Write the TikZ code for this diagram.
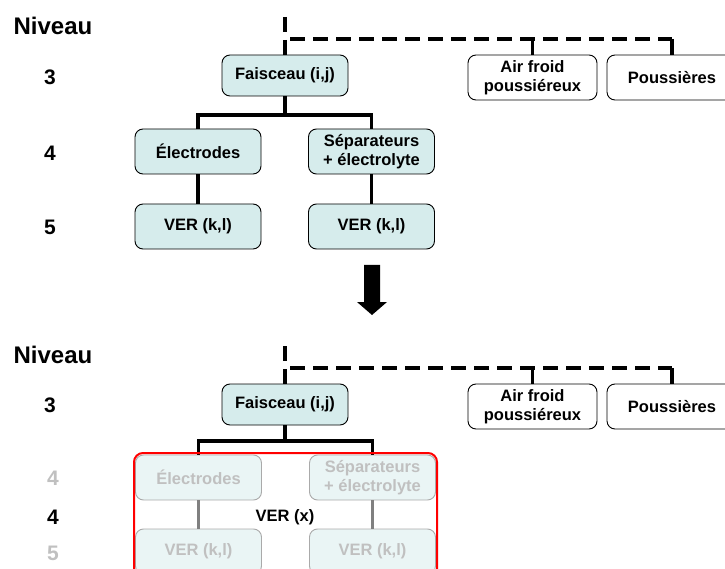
\documentclass[tikz,border=0pt]{standalone}
\usepackage{fontspec}
\setmainfont{Liberation Sans}
\usetikzlibrary{calc}

\definecolor{boxfill}{RGB}{214,236,236}
\definecolor{fadefill}{RGB}{234,245,245}
\definecolor{fadeline}{RGB}{170,170,170}
\definecolor{fadetext}{RGB}{192,192,192}
\definecolor{fadeconn}{RGB}{128,128,128}
\definecolor{framered}{RGB}{255,0,0}

\newcommand\bxfont{\fontsize{16.5}{19}\selectfont\bfseries}
\newcommand\lvfont{\fontsize{21}{24}\selectfont\bfseries}
\newcommand\nvfont{\fontsize{24}{28}\selectfont\bfseries}

\tikzset{
  unit/.style={draw=black, line width=0.9pt, rounded corners=8pt, fill=boxfill,
    minimum width=126pt, minimum height=45pt, inner sep=0pt, align=center, font=\bxfont},
  flat/.style={unit, fill=white, minimum width=129pt},
  faded/.style={unit, draw=fadeline, fill=fadefill, text=fadetext},
  conn/.style={line width=3.5pt, black},
  fconn/.style={line width=3pt, fadeconn},
  dashline/.style={line width=3.8pt, black, dash pattern=on 15pt off 8pt},
  lvl/.style={font=\lvfont, inner sep=0pt},
  lvlfade/.style={lvl, text=fadetext},
  niv/.style={font=\nvfont, inner sep=0pt},
  redframe/.style={draw=framered, line width=2pt, rounded corners=9pt}
}

\begin{document}
\begin{tikzpicture}[x=1pt, y=-1pt]
\useasboundingbox (0,0) rectangle (725,569);
\clip (0,0) rectangle (725,569);

% ---------- upper hierarchy ----------
\node[niv] (niv1) at (53,26) {Niveau};
\node[lvl] (l3a) at (50,77) {3};
\node[lvl] (l4a) at (50,153) {4};
\node[lvl] (l5a) at (50,227) {5};

\node[unit, minimum height=41pt] (fais1) at (285,75.5) {Faisceau (i,j)};
\node[flat] (air1) at (532.5,77.5) {Air froid\\poussiéreux};
\node[flat, minimum width=130pt] (pous1) at (672,77.5) {Poussières};
\node[unit] (elec1) at (198,151.5) {Électrodes};
\node[unit] (sep1) at (371.5,151.5) {Séparateurs\\+ électrolyte};
\node[unit] (vera1) at (198,226.5) {VER (k,l)};
\node[unit] (verb1) at (371.5,226.5) {VER (k,l)};

\coordinate (top1) at (285,17);
\coordinate (hs1) at (290,39);
\coordinate (he1) at (672,39);
\coordinate (br1) at (285,115);

\draw[dashline] (top1) -- (fais1.north);
\draw[dashline] (hs1) -- (he1);
\draw[conn] (air1.north |- he1) -- (air1.north);
\draw[conn] (he1) -- (pous1.north);
\draw[conn] (fais1.south) -- (br1);
\draw[conn] (elec1.north) |- (br1) -| (sep1.north);
\draw[conn] (elec1.south) -- (vera1.north);
\draw[conn] (sep1.south) -- (verb1.north);

% ---------- transition arrow ----------
\fill[black] (364,265) -- (380,265) -- (380,302) -- (387,302) -- (372,315)
  -- (357,302) -- (364,302) -- cycle;

% ---------- lower hierarchy ----------
\node[niv] (niv2) at (53,355) {Niveau};
\node[lvl] (l3b) at (50,405) {3};
\node[lvlfade] (l4b) at (53,478) {4};
\node[lvl] (l4c) at (53,517) {4};
\node[lvlfade] (l5b) at (53,553) {5};

\node[unit, minimum height=41pt] (fais2) at (285,404.5) {Faisceau (i,j)};
\node[flat] (air2) at (532.5,406.5) {Air froid\\poussiéreux};
\node[flat, minimum width=130pt] (pous2) at (672,406.5) {Poussières};
\node[faded] (elec2) at (198.5,477.5) {Électrodes};
\node[faded] (sep2) at (372.5,477.5) {Séparateurs\\+ électrolyte};
\node[faded] (vera2) at (198.5,551.5) {VER (k,l)};
\node[faded] (verb2) at (372.5,551.5) {VER (k,l)};

\coordinate (top2) at (285,346);
\coordinate (hs2) at (290,368);
\coordinate (he2) at (672,368);
\coordinate (br2) at (285,441);

\draw[dashline] (top2) -- (fais2.north);
\draw[dashline] (hs2) -- (he2);
\draw[conn] (air2.north |- he2) -- (air2.north);
\draw[conn] (he2) -- (pous2.north);
\draw[conn] (fais2.south) -- (br2);
\draw[conn] (elec2.north) |- (br2) -| (sep2.north);
\draw[fconn] (elec2.south) -- (vera2.north);
\draw[fconn] (sep2.south) -- (verb2.north);

\draw[redframe] (134,453) rectangle (437,600);
\node[font=\bxfont, inner sep=0pt] (verx) at (285,517) {VER (x)};

\end{tikzpicture}
\end{document}
